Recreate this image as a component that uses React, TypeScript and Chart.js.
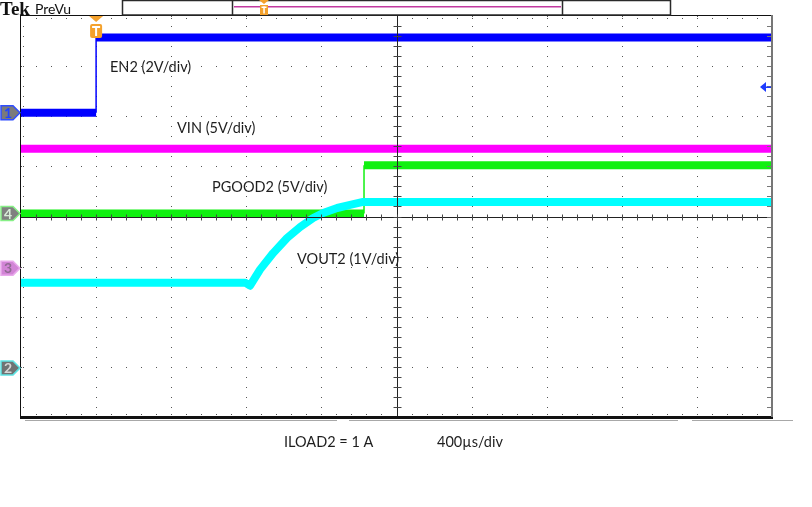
import React, { useEffect, useRef } from "react";
import { Chart, registerables } from "chart.js";

Chart.register(...registerables);

const WIDTH = 812;
const HEIGHT = 507;

// Horizontal: 400 µs/div, 10 divisions, trigger 1 division from the left edge
const TIME_MIN_US = -400;
const TIME_MAX_US = 3600;
const US_PER_DIV = 400;
const DIVS_X = 10;
const DIVS_Y = 8;

// Channel settings: ch1 EN2, ch2 VOUT2, ch3 VIN, ch4 PGOOD2
const channelNumbers = ["1", "2", "3", "4"];
const channelVoltsPerDiv = [2, 1, 5, 5];
const channelPositionDiv = [6.07, 0.98, 2.97, 4.06];

// EN2 (ch1)
const en2TimeUs = [-400, 0, 0, 3600];
const en2Volts = [0.0, 0.0, 3.0, 3.0];

// VIN (ch3)
const vinTimeUs = [-400, 3600];
const vinVolts = [11.9, 11.9];

// PGOOD2 (ch4)
const pgood2TimeUs = [-400, 1427, 1427, 3600];
const pgood2Volts = [0.0, 0.0, 4.8, 4.8];

// VOUT2 (ch2)
const vout2TimeUs = [-400, 794, 820, 873, 943, 1017, 1087, 1156, 1209, 1284, 1353, 1422, 1600, 3600];
const vout2Volts = [1.7, 1.7, 1.64, 1.96, 2.29, 2.59, 2.81, 2.99, 3.09, 3.19, 3.25, 3.31, 3.31, 3.31];

const traceLabels = ["EN2 (2V/div)", "VIN (5V/div)", "PGOOD2 (5V/div)", "VOUT2 (1V/div)"];
const footerLabels = ["ILOAD2 = 1 A", "400µs/div"];

const FONT = '"Lato", "Open Sans", sans-serif';
const ORANGE = "#f4a12c";

const toPoints = (times: number[], volts: number[], ch: number) =>
  times.map((t, i) => ({ x: t, y: channelPositionDiv[ch] + volts[i] / channelVoltsPerDiv[ch] }));

function pentagon(ctx: CanvasRenderingContext2D, cy: number) {
  ctx.beginPath();
  ctx.moveTo(1, cy - 7);
  ctx.lineTo(13, cy - 7);
  ctx.lineTo(20, cy);
  ctx.lineTo(13, cy + 7);
  ctx.lineTo(1, cy + 7);
  ctx.closePath();
}

const scopePlugin = {
  id: "scope",
  beforeDraw(chart: any) {
    const ctx = chart.ctx as CanvasRenderingContext2D;
    ctx.save();
    ctx.fillStyle = "#ffffff";
    ctx.fillRect(0, 0, chart.width, chart.height);
    ctx.restore();
  },
  beforeDatasetsDraw(chart: any) {
    const ctx = chart.ctx as CanvasRenderingContext2D;
    const xs = chart.scales.x;
    const ys = chart.scales.y;
    const { left, top, bottom } = chart.chartArea;
    ctx.save();
    ctx.fillStyle = "#555555";
    for (let d = 1; d < DIVS_X; d++) {
      if (d === DIVS_X / 2) continue;
      const px = Math.round(xs.getPixelForValue(TIME_MIN_US + d * US_PER_DIV));
      for (let s = 0; s <= DIVS_Y * 5; s++) {
        const py = Math.round(ys.getPixelForValue(s / 5));
        ctx.fillRect(px, py, 1, 1);
      }
    }
    for (let d = 1; d < DIVS_Y; d++) {
      if (d === DIVS_Y / 2) continue;
      const py = Math.round(ys.getPixelForValue(d));
      for (let s = 0; s <= DIVS_X * 5; s++) {
        const px = Math.round(xs.getPixelForValue(TIME_MIN_US + (s * US_PER_DIV) / 5));
        ctx.fillRect(px, py, 1, 1);
      }
    }
    for (let s = 1; s < DIVS_X * 5; s++) {
      const px = Math.round(xs.getPixelForValue(TIME_MIN_US + (s * US_PER_DIV) / 5));
      ctx.fillRect(px, Math.round(top) + 2, 1, 1);
      ctx.fillRect(px, Math.round(bottom) - 3, 1, 1);
    }
    for (let s = 1; s < DIVS_Y * 5; s++) {
      const py = Math.round(ys.getPixelForValue(s / 5));
      ctx.fillRect(Math.round(left) + 2, py, 1, 1);
    }
    ctx.restore();
  },
  afterDatasetsDraw(chart: any) {
    const ctx = chart.ctx as CanvasRenderingContext2D;
    const xs = chart.scales.x;
    const ys = chart.scales.y;
    const { left, right, top, bottom } = chart.chartArea;
    ctx.save();
    const cx = Math.round(xs.getPixelForValue((TIME_MIN_US + TIME_MAX_US) / 2)) + 0.5;
    const cy = Math.round(ys.getPixelForValue(DIVS_Y / 2)) + 0.5;
    ctx.strokeStyle = "#222222";
    ctx.lineWidth = 1;
    ctx.beginPath();
    ctx.moveTo(cx, top);
    ctx.lineTo(cx, bottom);
    ctx.moveTo(left, cy);
    ctx.lineTo(right, cy);
    ctx.stroke();
    ctx.strokeStyle = "#444444";
    ctx.beginPath();
    for (let s = 1; s < DIVS_Y * 5; s++) {
      const py = Math.round(ys.getPixelForValue(s / 5)) + 0.5;
      ctx.moveTo(cx - 4, py);
      ctx.lineTo(cx + 4, py);
    }
    for (let s = 1; s < DIVS_X * 5; s++) {
      const px = Math.round(xs.getPixelForValue(TIME_MIN_US + (s * US_PER_DIV) / 5)) + 0.5;
      ctx.moveTo(px, cy - 3);
      ctx.lineTo(px, cy + 3);
    }
    ctx.stroke();
    ctx.fillStyle = "#111111";
    ctx.fillRect(Math.round(left) - 1, Math.round(top) - 1, 1, bottom - top + 2);
    ctx.fillRect(Math.round(left) - 1, Math.round(top) - 1, right - left + 1, 1);
    ctx.fillRect(Math.round(left) - 1, Math.round(bottom) - 1, right - left + 2, 3);
    ctx.fillStyle = "#777777";
    ctx.fillRect(Math.round(right) - 1, Math.round(top) - 1, 2, bottom - top + 1);
    for (let s = 1; s < DIVS_Y * 5; s++) {
      const py = Math.round(ys.getPixelForValue(s / 5));
      ctx.fillRect(Math.round(right) - 5, py, 4, 1);
    }
    ctx.fillStyle = "#a8a8a8";
    ctx.fillRect(25, Math.round(bottom) + 3, 312, 1);
    ctx.fillRect(349, Math.round(bottom) + 3, 329, 1);
    ctx.fillRect(692, Math.round(bottom) + 3, 101, 1);
    ctx.restore();
  },
  afterDraw(chart: any) {
    const ctx = chart.ctx as CanvasRenderingContext2D;
    const xs = chart.scales.x;
    const ys = chart.scales.y;
    const { top } = chart.chartArea;
    ctx.save();

    ctx.fillStyle = "#111111";
    ctx.textBaseline = "alphabetic";
    ctx.font = 'bold 19px "Liberation Serif", serif';
    ctx.fillText("Tek", 0, 15);
    ctx.font = `14px ${FONT}`;
    ctx.fillText("PreVu", 35, 14);

    ctx.strokeStyle = "#2a2a2a";
    ctx.lineWidth = 1.5;
    ctx.strokeRect(122.5, 0.5, 548, 14.5);
    ctx.beginPath();
    ctx.moveTo(232.5, 0);
    ctx.lineTo(232.5, 15);
    ctx.moveTo(562.5, 0);
    ctx.lineTo(562.5, 15);
    ctx.stroke();
    ctx.fillStyle = "#c2399f";
    ctx.fillRect(234, 6, 327, 1.5);

    ctx.fillStyle = ORANGE;
    ctx.beginPath();
    ctx.moveTo(259, 0);
    ctx.lineTo(269, 0);
    ctx.lineTo(264, 4);
    ctx.closePath();
    ctx.fill();
    ctx.fillRect(260, 5, 8, 10);
    ctx.fillStyle = "#ffffff";
    ctx.fillRect(261.5, 6.5, 5, 1.5);
    ctx.fillRect(263.3, 6.5, 1.5, 7);

    const tx = xs.getPixelForValue(0);
    ctx.fillStyle = ORANGE;
    ctx.beginPath();
    ctx.moveTo(tx - 7, top);
    ctx.lineTo(tx + 7, top);
    ctx.lineTo(tx, top + 6);
    ctx.closePath();
    ctx.fill();
    ctx.beginPath();
    ctx.roundRect(tx - 6, top + 8, 12, 14, 2);
    ctx.fill();
    ctx.fillStyle = "#ffffff";
    ctx.fillRect(tx - 4, top + 10, 8, 2);
    ctx.fillRect(tx - 1, top + 10, 2, 10);

    const markerStyles = [
      { fill: "#7b7b7b", stroke: "#2f4dff", text: "#2244ff" },
      { fill: "#6f7373", stroke: "#5fe3e3", text: "#d6d6d6" },
      { fill: "#d284d6", stroke: "#e9a9ec", text: "#8f6a92" },
      { fill: "#808080", stroke: "#86f086", text: "#d8ecd8" },
    ];
    for (let ch = 0; ch < 4; ch++) {
      const my = ys.getPixelForValue(channelPositionDiv[ch]);
      const st = markerStyles[ch];
      pentagon(ctx, my);
      ctx.fillStyle = st.fill;
      ctx.fill();
      ctx.lineWidth = 1.5;
      ctx.strokeStyle = st.stroke;
      ctx.stroke();
      ctx.fillStyle = st.text;
      ctx.font = `bold 14px ${FONT}`;
      ctx.textAlign = "center";
      ctx.textBaseline = "middle";
      ctx.fillText(channelNumbers[ch], 8, my + 0.5);
    }

    const ay = 87;
    ctx.fillStyle = "#1f3cff";
    ctx.beginPath();
    ctx.moveTo(760, ay);
    ctx.lineTo(766, ay - 5);
    ctx.lineTo(766, ay + 5);
    ctx.closePath();
    ctx.fill();
    ctx.fillRect(765, ay - 0.5, 6, 1.5);

    ctx.textAlign = "left";
    ctx.textBaseline = "alphabetic";
    ctx.fillStyle = "#1e1e1e";
    ctx.font = `14.5px ${FONT}`;
    ctx.fillText(traceLabels[0], 110, 72);
    ctx.fillText(traceLabels[1], 177, 133);
    ctx.fillText(traceLabels[2], 212, 192);
    ctx.fillText(traceLabels[3], 297, 264);
    ctx.fillText(footerLabels[0], 284, 447);
    ctx.fillText(footerLabels[1], 437, 447);
    ctx.restore();
  },
};

export default function App() {
  const canvasRef = useRef<HTMLCanvasElement | null>(null);

  useEffect(() => {
    const canvas = canvasRef.current;
    if (!canvas) return;
    const thin = 1.5;
    const thick = 8;
    const seg = {
      borderWidth: (c: any) => (c.p0.parsed.x === c.p1.parsed.x ? thin : thick),
    };
    const common = {
      pointRadius: 0,
      tension: 0,
      borderWidth: thick,
      borderCapStyle: "butt",
      borderJoinStyle: "round",
      fill: false,
      segment: seg,
    };
    const chart = new Chart(canvas, {
      type: "line",
      data: {
        datasets: [
          { ...common, label: "VOUT2", data: toPoints(vout2TimeUs, vout2Volts, 1), borderColor: "#00ffff" },
          { ...common, label: "PGOOD2", data: toPoints(pgood2TimeUs, pgood2Volts, 3), borderColor: "#11f011" },
          { ...common, label: "EN2", data: toPoints(en2TimeUs, en2Volts, 0), borderColor: "#0000ff" },
          { ...common, label: "VIN", data: toPoints(vinTimeUs, vinVolts, 2), borderColor: "#ff00ff" },
        ],
      } as any,
      options: {
        responsive: false,
        animation: false,
        events: [],
        layout: { padding: { left: 21, top: 16, right: WIDTH - 772, bottom: HEIGHT - 417 } },
        scales: {
          x: { type: "linear", min: TIME_MIN_US, max: TIME_MAX_US, display: false },
          y: { type: "linear", min: 0, max: DIVS_Y, display: false },
        },
        plugins: {
          legend: { display: false },
          tooltip: { enabled: false },
        },
      } as any,
      plugins: [scopePlugin],
    });
    return () => chart.destroy();
  }, []);

  return (
    <div style={{ position: "fixed", left: 0, top: 0, width: WIDTH, height: HEIGHT, background: "#fff" }}>
      <canvas ref={canvasRef} width={WIDTH} height={HEIGHT} style={{ display: "block" }} />
    </div>
  );
}
